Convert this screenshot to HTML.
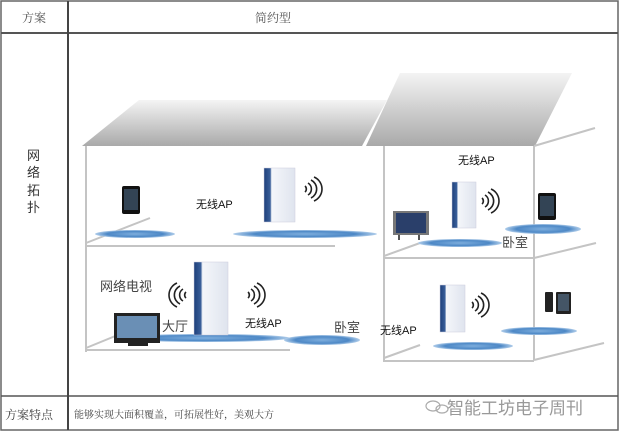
<!DOCTYPE html>
<html><head><meta charset="utf-8"><style>
body{margin:0;background:#fff;}
svg{display:block;font-family:"Liberation Sans","Noto Sans CJK SC",sans-serif;}
.sf{font-family:"Liberation Serif","Noto Serif CJK SC",serif;}
</style></head><body>
<svg width="620" height="432" viewBox="0 0 620 432">
<defs>
<linearGradient id="rf" x1="0" y1="0" x2="0" y2="1"><stop offset="0" stop-color="#f4f4f4"/><stop offset="1" stop-color="#a9a9a9"/></linearGradient>
<radialGradient id="el"><stop offset="0" stop-color="#7eaedd"/><stop offset="0.7" stop-color="#4d88c6"/><stop offset="1" stop-color="#b0cdea"/></radialGradient>
<linearGradient id="ap" x1="0" y1="0" x2="1" y2="0"><stop offset="0" stop-color="#1d3f7a"/><stop offset="0.2" stop-color="#3a5f9a"/><stop offset="0.25" stop-color="#f4f6fa"/><stop offset="1" stop-color="#dfe4ee"/></linearGradient>
<g id="wave" fill="none" stroke="#222" stroke-width="1.6"><path d="M0,-3 a4,4 0 0 1 0,6"/><path d="M3,-6 a7,7 0 0 1 0,12"/><path d="M6,-9 a10,10 0 0 1 0,18"/><path d="M9,-12 a13,13 0 0 1 0,24"/></g>
</defs>
<rect x="1" y="1" width="617" height="429" fill="none" stroke="#666" stroke-width="1.5"/>
<line x1="1" y1="33" x2="618" y2="33" stroke="#555" stroke-width="2"/>
<line x1="1" y1="396" x2="618" y2="396" stroke="#555" stroke-width="1.5"/>
<line x1="68" y1="1" x2="68" y2="430" stroke="#444" stroke-width="2"/>
<text class="sf" x="22" y="22" font-size="12" fill="#555">方案</text>
<text class="sf" x="255" y="22" font-size="12" fill="#555">简约型</text>
<g font-size="13" fill="#333"><text x="27" y="160">网</text><text x="27" y="177">络</text><text x="27" y="195">拓</text><text x="27" y="212">扑</text></g>
<text class="sf" x="5" y="419" font-size="12" fill="#444">方案特点</text>
<text class="sf" x="74" y="418" font-size="10" fill="#444">能够实现大面积覆盖，可拓展性好，美观大方</text>
<text x="447" y="414" font-size="17" fill="#999">智能工坊电子周刊</text>
<g fill="none" stroke="#aaa" stroke-width="1.2"><ellipse cx="433" cy="406" rx="7" ry="5"/><ellipse cx="442" cy="409" rx="6" ry="4"/></g>
<polygon points="82,146 362,146 387,100 139,100" fill="url(#rf)"/>
<polygon points="366,146 535,146 572,73 400,73" fill="url(#rf)"/>
<g stroke="#c4c4c4" stroke-width="2" fill="none">
<line x1="86" y1="146" x2="86" y2="352"/>
<line x1="384" y1="146" x2="384" y2="362"/>
<line x1="534" y1="146" x2="534" y2="360"/>
<line x1="534" y1="146" x2="595" y2="128"/>
<line x1="86" y1="246" x2="335" y2="246"/>
<line x1="86" y1="350" x2="290" y2="350"/>
<line x1="86" y1="243" x2="150" y2="218"/>
<line x1="86" y1="348" x2="130" y2="330"/>
<line x1="384" y1="258" x2="534" y2="258"/>
<line x1="384" y1="361" x2="534" y2="361"/>
<line x1="384" y1="256" x2="420" y2="243"/>
<line x1="384" y1="358" x2="420" y2="345"/>
<line x1="534" y1="258" x2="596" y2="243"/>
<line x1="534" y1="360" x2="604" y2="343"/>
</g>
<g fill="url(#el)">
<ellipse cx="135" cy="234" rx="40" ry="4"/>
<ellipse cx="305" cy="234" rx="72" ry="4"/>
<ellipse cx="460" cy="243" rx="42" ry="4"/>
<ellipse cx="543" cy="229" rx="38" ry="5"/>
<ellipse cx="205" cy="338" rx="85" ry="4"/>
<ellipse cx="322" cy="340" rx="38" ry="5"/>
<ellipse cx="473" cy="346" rx="40" ry="4"/>
<ellipse cx="539" cy="331" rx="38" ry="4"/>
</g>
<rect x="264" y="168" width="31" height="54" fill="url(#ap)" stroke="#ccd" stroke-width="0.5"/>
<rect x="194" y="262" width="34" height="73" fill="url(#ap)" stroke="#ccd" stroke-width="0.5"/>
<rect x="452" y="182" width="24" height="46" fill="url(#ap)" stroke="#ccd" stroke-width="0.5"/>
<rect x="440" y="285" width="25" height="47" fill="url(#ap)" stroke="#ccd" stroke-width="0.5"/>
<use href="#wave" x="305" y="189"/>
<use href="#wave" x="248" y="295"/>
<use href="#wave" transform="translate(186,295) scale(-1,1)"/>
<use href="#wave" x="482" y="201"/>
<use href="#wave" x="472" y="305"/>
<rect x="122" y="186" width="18" height="28" rx="2" fill="#111"/><rect x="124" y="189" width="14" height="21" fill="#345"/>
<rect x="538" y="193" width="18" height="27" rx="2" fill="#111"/><rect x="540" y="196" width="14" height="20" fill="#345"/>
<rect x="545" y="292" width="8" height="20" rx="1" fill="#222"/>
<rect x="556" y="292" width="15" height="22" rx="1" fill="#222"/><rect x="558" y="294" width="11" height="17" fill="#456"/>
<rect x="393" y="211" width="36" height="24" fill="#777"/><rect x="396" y="213" width="30" height="20" fill="#2a3f6a"/>
<rect x="398" y="235" width="2" height="5" fill="#555"/><rect x="418" y="235" width="2" height="5" fill="#555"/>
<rect x="114" y="313" width="46" height="30" fill="#222"/><rect x="117" y="316" width="40" height="22" fill="#6a8fb5"/>
<rect x="128" y="343" width="20" height="3" fill="#222"/>
<g font-size="11" fill="#111">
<text x="196" y="208">无线AP</text>
<text x="245" y="327">无线AP</text>
<text x="458" y="164">无线AP</text>
<text x="380" y="334">无线AP</text>
</g>
<g font-size="13" fill="#444">
<text x="100" y="291">网络电视</text>
<text x="162" y="331">大厅</text>
<text x="334" y="332">卧室</text>
<text x="502" y="247">卧室</text>
</g>
</svg>
</body></html>
